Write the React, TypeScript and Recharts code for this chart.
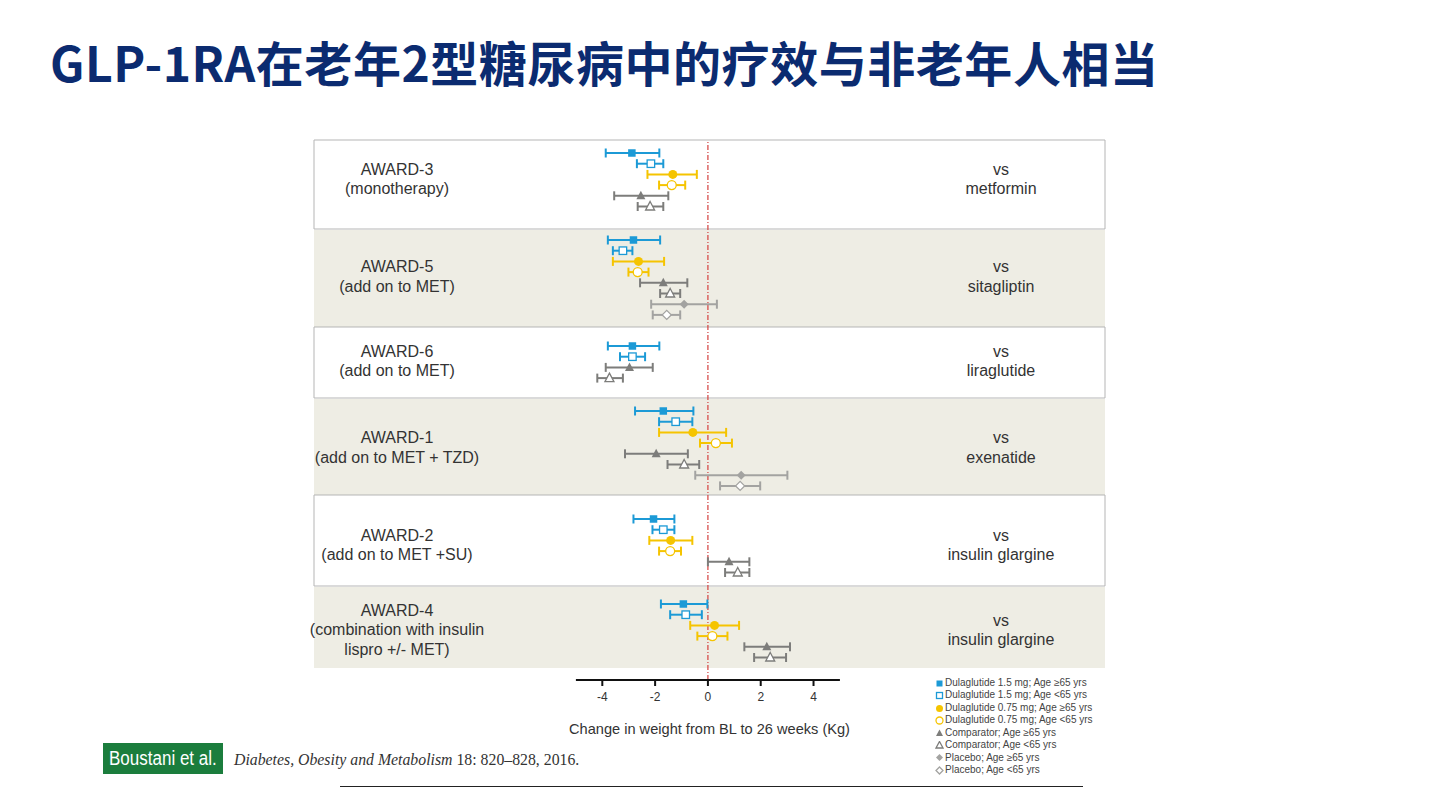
import React from 'react';
import { ScatterChart, Scatter, XAxis, YAxis, ErrorBar, ReferenceArea, ReferenceLine, Legend } from 'recharts';

// [mean, lower, upper] change in weight (kg); null = arm not in that trial
type Ci = [number, number, number] | null;

const trials = ['AWARD-3', 'AWARD-5', 'AWARD-6', 'AWARD-1', 'AWARD-2', 'AWARD-4'];
const trialNotes = [
  ['(monotherapy)'],
  ['(add on to MET)'],
  ['(add on to MET)'],
  ['(add on to MET + TZD)'],
  ['(add on to MET +SU)'],
  ['(combination with insulin', 'lispro +/- MET)'],
];
const comparators = ['metformin', 'sitagliptin', 'liraglutide', 'exenatide', 'insulin glargine', 'insulin glargine'];

const dula15Old: Ci[] = [[-2.88, -3.87, -1.84], [-2.82, -3.79, -1.81], [-2.86, -3.79, -1.84], [-1.69, -2.76, -0.55], [-2.06, -2.82, -1.27], [-0.93, -1.78, -0.02]];
const dula15Young: Ci[] = [[-2.16, -2.69, -1.69], [-3.22, -3.6, -2.86], [-2.86, -3.33, -2.38], [-1.22, -1.85, -0.59], [-1.69, -2.1, -1.27], [-0.84, -1.43, -0.23]];
const dula075Old: Ci[] = [[-1.33, -2.29, -0.42], [-2.63, -3.6, -1.66], null, [-0.57, -1.85, 0.69], [-1.41, -2.22, -0.59], [0.25, -0.67, 1.18]];
const dula075Young: Ci[] = [[-1.37, -1.85, -0.86], [-2.66, -3.01, -2.25], null, [0.3, -0.3, 0.91], [-1.43, -1.85, -1.02], [0.17, -0.4, 0.74]];
const compOld: Ci[] = [[-2.54, -3.55, -1.5], [-1.69, -2.57, -0.78], [-2.97, -3.87, -2.09], [-1.96, -3.14, -0.76], [0.8, 0.0, 1.57], [2.23, 1.38, 3.11]];
const compYoung: Ci[] = [[-2.19, -2.66, -1.69], [-1.43, -1.81, -1.05], [-3.73, -4.19, -3.22], [-0.9, -1.53, -0.33], [1.13, 0.65, 1.57], [2.36, 1.75, 2.96]];
const placOld: Ci[] = [null, [-0.9, -2.15, 0.34], null, [1.26, -0.48, 3.01], null, null];
const placYoung: Ci[] = [null, [-1.56, -2.09, -1.05], null, [1.22, 0.46, 1.98], null, null];

const xTicks = [-4, -2, 0, 2, 4];

const BLUE = '#1c9ad6';
const YELLOW = '#f5c400';
const GREY = '#7d7d7b';
const LIGHT_GREY = '#a3a3a1';
const FONT = '"Liberation Sans", Arial, sans-serif';

type Shape = 'square' | 'circle' | 'triangle' | 'diamond';
interface SeriesDef { name: string; values: Ci[]; color: string; shape: Shape; filled: boolean }

const SERIES: SeriesDef[] = [
  { name: 'Dulaglutide 1.5 mg; Age ≥65 yrs', values: dula15Old, color: BLUE, shape: 'square', filled: true },
  { name: 'Dulaglutide 1.5 mg; Age <65 yrs', values: dula15Young, color: BLUE, shape: 'square', filled: false },
  { name: 'Dulaglutide 0.75 mg; Age ≥65 yrs', values: dula075Old, color: YELLOW, shape: 'circle', filled: true },
  { name: 'Dulaglutide 0.75 mg; Age <65 yrs', values: dula075Young, color: YELLOW, shape: 'circle', filled: false },
  { name: 'Comparator; Age ≥65 yrs', values: compOld, color: GREY, shape: 'triangle', filled: true },
  { name: 'Comparator; Age <65 yrs', values: compYoung, color: GREY, shape: 'triangle', filled: false },
  { name: 'Placebo; Age ≥65 yrs', values: placOld, color: LIGHT_GREY, shape: 'diamond', filled: true },
  { name: 'Placebo; Age <65 yrs', values: placYoung, color: LIGHT_GREY, shape: 'diamond', filled: false },
];

// layout (y axis runs in pixels from the top of the plot)
const X_MIN = -14.92;
const X_MAX = 15.04;
const Y_MAX = 540;
const PANEL_EDGES = [0, 90, 187, 259, 355, 447, 528];
const FIRST_ROW = [13, 10, 19, 12, 24, 17];
const ROW_STEP = 10.7;

const rowCount = (t: number) => SERIES.filter(s => s.values[t]).length;

const seriesData = SERIES.map((s, si) => {
  const pts: { x: number; y: number; err: [number, number] }[] = [];
  s.values.forEach((v, t) => {
    if (!v) return;
    const row = SERIES.slice(0, si).filter(o => o.values[t]).length;
    pts.push({ x: v[0], y: PANEL_EDGES[t] + FIRST_ROW[t] + row * ROW_STEP, err: [v[0] - v[1], v[2] - v[0]] });
  });
  return pts;
});

function marker(s: SeriesDef, cx: number, cy: number, size: number) {
  const fill = s.filled ? s.color : '#fff';
  const sw = s.filled ? 0 : 1.3;
  const h = size / 2;
  if (s.shape === 'square') {
    return <rect x={cx - h} y={cy - h} width={size} height={size} fill={fill} stroke={s.color} strokeWidth={sw} />;
  }
  if (s.shape === 'circle') {
    return <circle cx={cx} cy={cy} r={h + 0.5} fill={fill} stroke={s.color} strokeWidth={sw} />;
  }
  if (s.shape === 'triangle') {
    return <polygon points={`${cx},${cy - h - 1} ${cx + h + 0.5},${cy + h - 0.5} ${cx - h - 0.5},${cy + h - 0.5}`} fill={fill} stroke={s.color} strokeWidth={sw} />;
  }
  return <polygon points={`${cx},${cy - h - 0.5} ${cx + h + 0.5},${cy} ${cx},${cy + h + 0.5} ${cx - h - 0.5},${cy}`} fill={fill} stroke={s.color} strokeWidth={sw} />;
}

const PanelText = ({ viewBox, t }: any) => {
  if (!viewBox) return null;
  const { x, y, width } = viewBox;
  const mid = y + FIRST_ROW[t] + ((rowCount(t) - 1) * ROW_STEP) / 2 - 1;
  const left = [trials[t], ...trialNotes[t]];
  const right = ['vs', comparators[t]];
  const lh = 19.5;
  const style = { fontFamily: FONT, fontSize: 16, fill: '#333' };
  return (
    <g>
      {left.map((line, i) => (
        <text key={i} x={x + 83} y={mid + (i - (left.length - 1) / 2) * lh} textAnchor="middle" dominantBaseline="central" {...style}>{line}</text>
      ))}
      {right.map((line, i) => (
        <text key={i} x={x + width - 104} y={mid + (i - (right.length - 1) / 2) * lh} textAnchor="middle" dominantBaseline="central" {...style}>{line}</text>
      ))}
    </g>
  );
};

const LegendBox = () => (
  <div style={{ fontFamily: FONT, fontSize: 10, color: '#444', lineHeight: '12.45px' }}>
    {SERIES.map(s => (
      <div key={s.name} style={{ display: 'flex', alignItems: 'center', whiteSpace: 'nowrap' }}>
        <svg width={9} height={9} style={{ marginRight: 1 }}>{marker(s, 4.5, 4.5, 6)}</svg>
        <span>{s.name}</span>
      </div>
    ))}
  </div>
);

export default function App() {
  const panelIdx = trials.map((_, i) => i);
  const whitePanels = panelIdx.filter(i => i % 2 === 0);
  const beigePanels = panelIdx.filter(i => i % 2 === 1);

  return (
    <div style={{ position: 'absolute', left: 0, top: 0, width: 1440, height: 810, background: '#fff', overflow: 'hidden' }}>
      <div style={{ position: 'absolute', left: 50, top: 37, fontFamily: '"Noto Sans CJK SC", sans-serif', fontWeight: 700, fontSize: 48, letterSpacing: 0.55, lineHeight: '48px', color: '#0b2b70', whiteSpace: 'nowrap' }}>
        GLP-1RA在老年2型糖尿病中的疗效与非老年人相当
      </div>

      <ScatterChart width={1440} height={810} margin={{ left: 314, right: 335, top: 140, bottom: 70 }} style={{ fontFamily: FONT }}>
        <XAxis
          type="number"
          dataKey="x"
          domain={[X_MIN, X_MAX]}
          allowDataOverflow
          ticks={xTicks}
          axisLine={false}
          tickLine={{ stroke: '#111', strokeWidth: 2 }}
          tickSize={6}
          tickMargin={6}
          tick={{ fill: '#333', fontSize: 12 }}
          height={60}
          label={{ value: 'Change in weight from BL to 26 weeks (Kg)', position: 'insideBottom', offset: 6, fill: '#333', fontSize: 14.6 }}
        />
        <YAxis type="number" dataKey="y" domain={[0, Y_MAX]} reversed hide allowDataOverflow />

        {beigePanels.map(t => (
          <ReferenceArea key={`b${t}`} x1={X_MIN} x2={X_MAX} y1={PANEL_EDGES[t]} y2={PANEL_EDGES[t + 1]} fill="#eeede4" fillOpacity={1} stroke="none" ifOverflow="visible"
            label={(p: any) => <PanelText {...p} t={t} />} />
        ))}
        {whitePanels.map(t => (
          <ReferenceArea key={`w${t}`} x1={X_MIN} x2={X_MAX} y1={PANEL_EDGES[t]} y2={PANEL_EDGES[t + 1] - 1} fill="#fff" fillOpacity={1} stroke="#b5b5b5" strokeWidth={1} ifOverflow="visible"
            label={(p: any) => <PanelText {...p} t={t} />} />
        ))}

        <ReferenceLine x={0} stroke="#d4413f" strokeWidth={1.2} strokeDasharray="5 2 1 2" ifOverflow="visible" />
        <ReferenceLine segment={[{ x: -5, y: Y_MAX }, { x: 5, y: Y_MAX }]} stroke="#111" strokeWidth={2} ifOverflow="visible" />

        {SERIES.map((s, i) => (
          <Scatter
            key={s.name}
            name={s.name}
            data={seriesData[i]}
            fill={s.color}
            isAnimationActive={false}
            shape={(p: any) => marker(s, p.cx, p.cy, s.shape === 'square' ? 7.5 : 8)}
          >
            <ErrorBar dataKey="err" direction="x" width={4.5} stroke={s.color} strokeWidth={2} />
          </Scatter>
        ))}

        <Legend layout="horizontal" verticalAlign="middle" align="center" content={() => <LegendBox />} wrapperStyle={{ left: 935, top: 677, width: 180 }} />
      </ScatterChart>

      <div style={{ position: 'absolute', left: 103, top: 743, width: 120, height: 31, background: '#1b7d3d', overflow: 'hidden' }}>
        <div style={{ position: 'absolute', left: 6, top: 0, color: '#fff', fontFamily: '"Liberation Sans", sans-serif', fontSize: 20, lineHeight: '31px', whiteSpace: 'nowrap', transform: 'scaleX(0.85)', transformOrigin: '0 0' }}>
          Boustani et al.
        </div>
      </div>
      <div style={{ position: 'absolute', left: 234, top: 751, fontFamily: '"Liberation Serif", serif', fontSize: 15.8, color: '#333', whiteSpace: 'nowrap' }}>
        <i>Diabetes, Obesity and Metabolism</i> 18: 820–828, 2016.
      </div>
      <div style={{ position: 'absolute', left: 340, top: 786, width: 743, height: 1, background: '#222' }} />
    </div>
  );
}
